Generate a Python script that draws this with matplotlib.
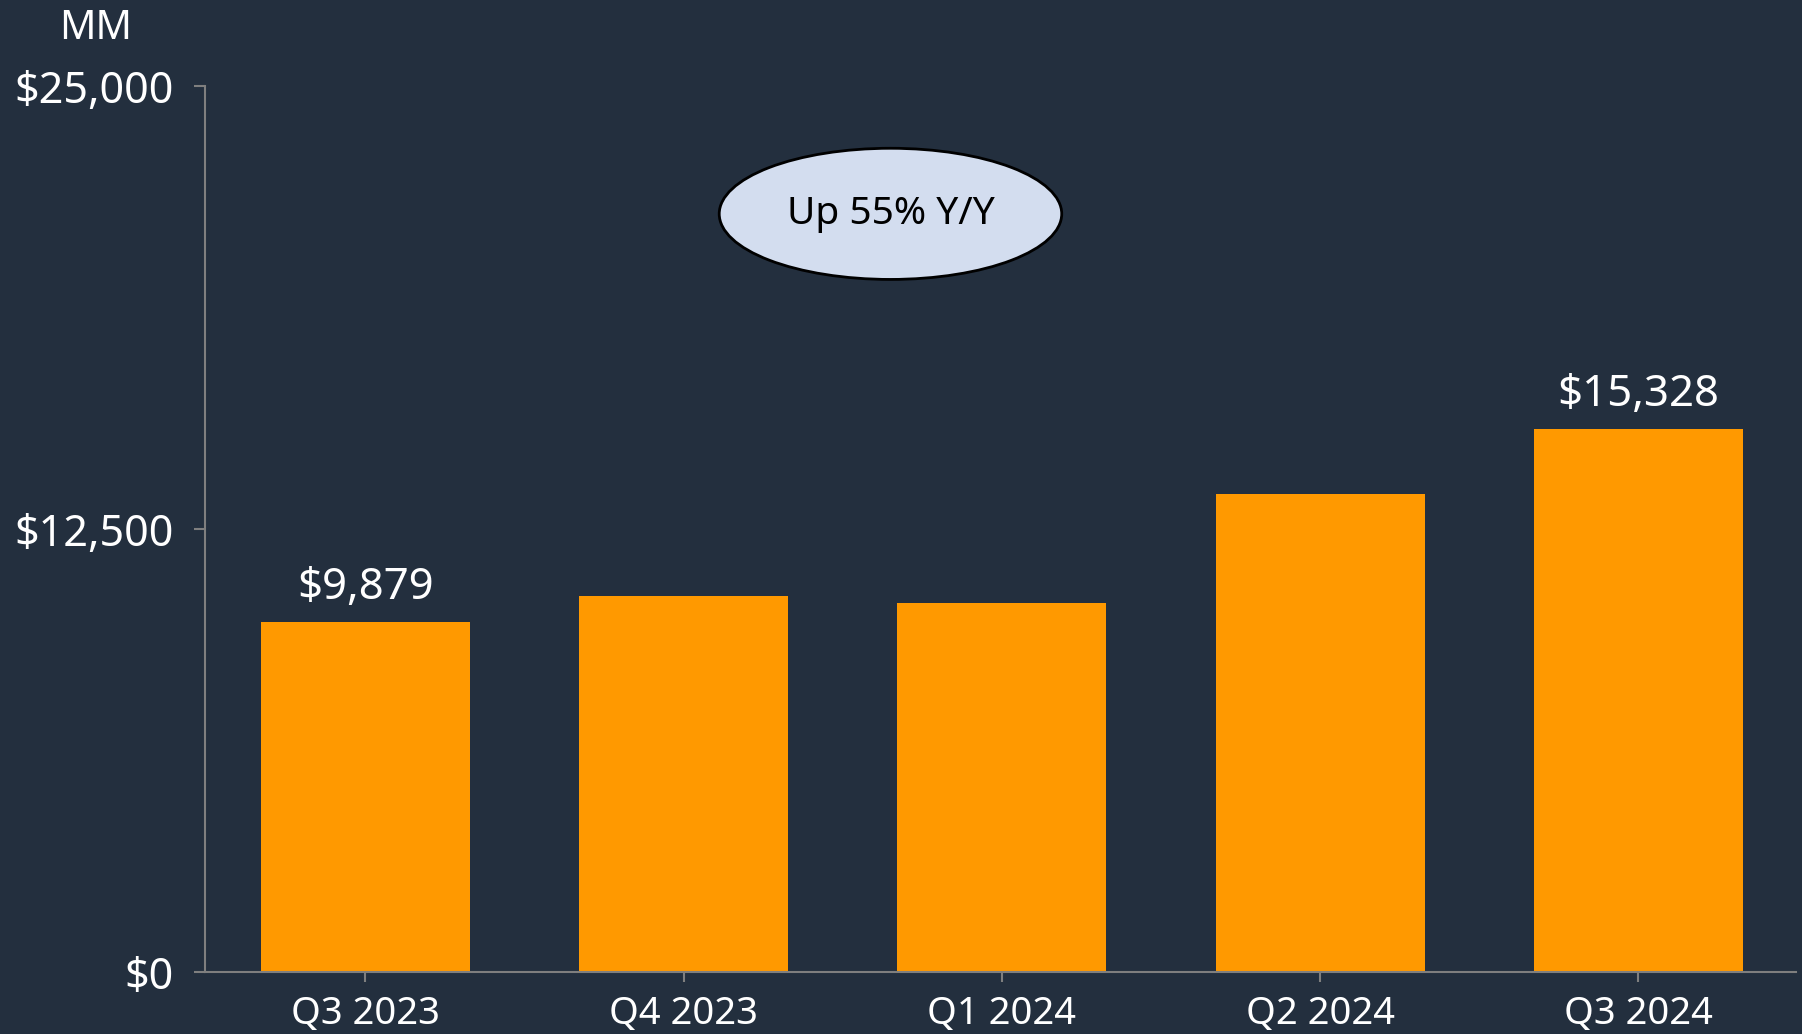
import matplotlib.pyplot as plt
from matplotlib.patches import Ellipse

quarters = ['Q3 2023', 'Q4 2023', 'Q1 2024', 'Q2 2024', 'Q3 2024']
values = [9879, 10624, 10431, 13485, 15328]
labelled = {0: '$9,879', 4: '$15,328'}
yticks = [0, 12500, 25000]
ytick_labels = ['$0', '$12,500', '$25,000']

bg = '#232f3e'
orange = '#ff9900'
grey = '#7f7f7f'

plt.rcParams['font.family'] = ['Noto Sans', 'DejaVu Sans']

fig = plt.figure(figsize=(18.02, 10.34), dpi=100, facecolor=bg)
ax = fig.add_axes([0.1135, 0.0595, 0.8832, 0.8571])
ax.set_facecolor(bg)

x = list(range(len(quarters)))
ax.bar(x, values, width=0.657, color=orange, zorder=2)

for i, txt in labelled.items():
    ax.annotate(txt, (x[i], values[i]), xytext=(0, 9), textcoords='offset points',
                ha='center', va='bottom', color='white', fontsize=31.5)

ax.set_xlim(-0.505, 4.495)
ax.set_ylim(0, 25000)
ax.set_xticks(x)
ax.set_xticklabels(quarters)
ax.set_yticks(yticks)
ax.set_yticklabels(ytick_labels)

for s in ['top', 'right']:
    ax.spines[s].set_visible(False)
for s in ['left', 'bottom']:
    ax.spines[s].set_color(grey)
    ax.spines[s].set_linewidth(1.5)

ax.tick_params(axis='y', colors=grey, labelcolor='white', labelsize=31,
               length=8, width=1.5, pad=14)
ax.tick_params(axis='x', colors=grey, labelcolor='white', labelsize=27.5,
               length=7, width=1.5, pad=9)

# callout bubble
ell = Ellipse((1.65, 21400), width=1.076, height=3700, facecolor='#d3ddef',
              edgecolor='black', linewidth=2, zorder=3)
ax.add_patch(ell)
ax.text(1.65, 21400, 'Up 55% Y/Y', ha='center', va='center', fontsize=28,
        color='black', zorder=4)

fig.text(0.053, 0.972, 'MM', ha='center', va='center', color='white', fontsize=29)

fig.savefig('out.png', dpi=100, facecolor=bg)
